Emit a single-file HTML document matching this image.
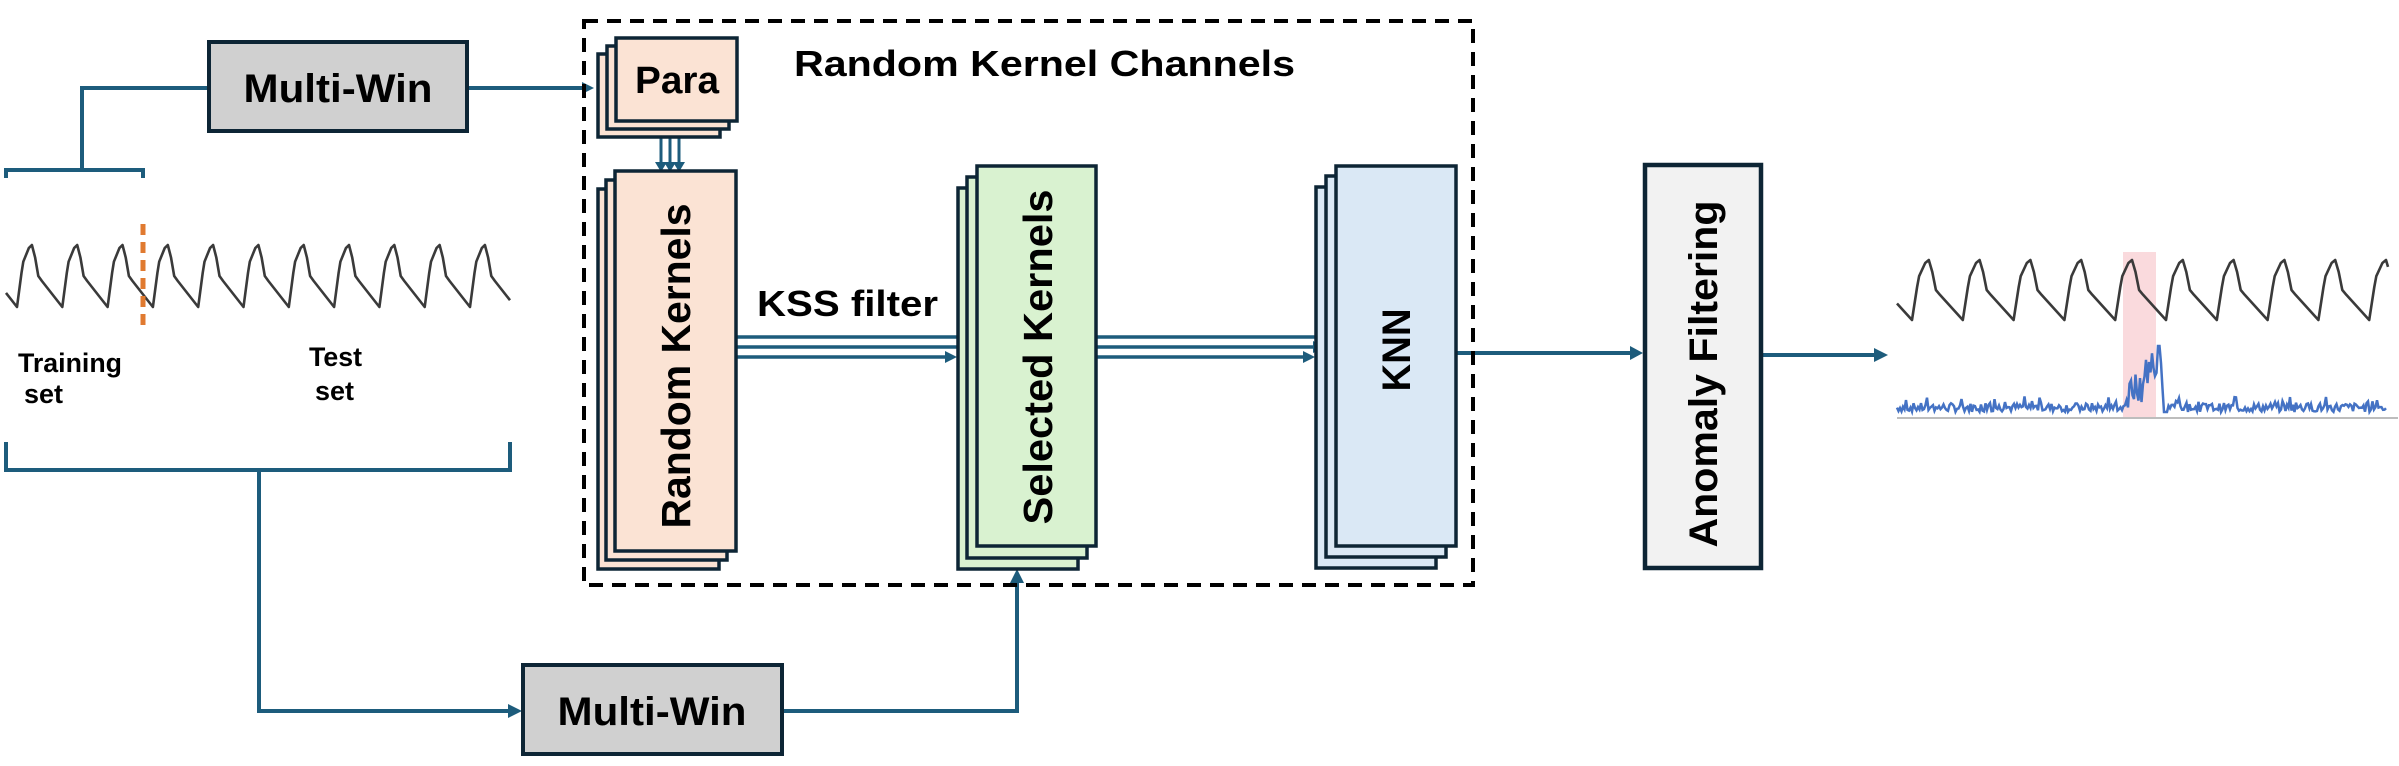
<!DOCTYPE html>
<html><head><meta charset="utf-8"><style>
html,body{margin:0;padding:0;background:#fff;}
svg{display:block;}
text{font-family:"Liberation Sans",sans-serif;font-weight:bold;fill:#000;}
</style></head><body>
<svg id="s" width="2399" height="766" viewBox="0 0 2399 766" xmlns="http://www.w3.org/2000/svg">
<g id="waves"></g>
<line x1="143" y1="224" x2="143" y2="330" stroke="#e07a30" stroke-width="5" stroke-dasharray="11,7"/>
<text x="18" y="372" font-size="27" textLength="104" lengthAdjust="spacingAndGlyphs">Training</text>
<text x="24" y="403" font-size="27">set</text>
<text x="309" y="366" font-size="27" textLength="53" lengthAdjust="spacingAndGlyphs">Test</text>
<text x="315" y="400" font-size="27">set</text>

<g fill="none" stroke="#1d5c7c" stroke-width="4">
<path d="M6 178 V170 H143 V178"/>
<path d="M82 170 V88 H207"/>
<line x1="468" y1="88" x2="584" y2="88"/>
<path d="M6 442 V470 H510 V442"/>
<path d="M259 470 V711 H510"/>
<path d="M783 711 H1017 V582"/>
<line x1="661" y1="137" x2="661" y2="166" stroke-width="3"/>
<line x1="670" y1="128" x2="670" y2="166" stroke-width="3"/>
<line x1="679" y1="120" x2="679" y2="166" stroke-width="3"/>
<line x1="735" y1="337" x2="970" y2="337" stroke-width="3.5"/>
<line x1="735" y1="347" x2="962" y2="347" stroke-width="3.5"/>
<line x1="735" y1="357" x2="950" y2="357" stroke-width="3.5"/>
<line x1="1096" y1="337" x2="1328" y2="337" stroke-width="3.5"/>
<line x1="1096" y1="347" x2="1318" y2="347" stroke-width="3.5"/>
<line x1="1096" y1="357" x2="1308" y2="357" stroke-width="3.5"/>
<line x1="1456" y1="353" x2="1632" y2="353"/>
<line x1="1762" y1="355" x2="1876" y2="355"/>
</g>
<g fill="#1d5c7c">
<polygon points="594,88 582,82 582,94"/>
<polygon points="522,711 508,704 508,718"/>
<polygon points="1017,569 1010,583 1024,583"/>
<polygon points="661,172 655,162 667,162"/>
<polygon points="670,172 664,162 676,162"/>
<polygon points="679,172 673,162 685,162"/>
<polygon points="978,337 966,331 966,343"/>
<polygon points="969,347 957,341 957,353"/>
<polygon points="957,357 945,351 945,363"/>
<polygon points="1336,337 1324,331 1324,343"/>
<polygon points="1325,347 1313,341 1313,353"/>
<polygon points="1315,357 1303,351 1303,363"/>
<polygon points="1643,353 1630,346 1630,360"/>
<polygon points="1888,355 1874,348 1874,362"/>
</g>

<rect x="584" y="21" width="889" height="564" fill="none" stroke="#000" stroke-width="4" stroke-dasharray="14,9"/>
<text x="794" y="76" font-size="36" textLength="501" lengthAdjust="spacingAndGlyphs">Random Kernel Channels</text>

<g stroke="#0d2535" stroke-width="4">
<rect x="209" y="42" width="258" height="89" fill="#d0d0d0"/>
<rect x="523" y="665" width="259" height="89" fill="#d0d0d0"/>
<rect x="598" y="54" width="122" height="83" fill="#fbe3d4" stroke-width="3.5"/>
<rect x="607" y="46" width="122" height="83" fill="#fbe3d4" stroke-width="3.5"/>
<rect x="616" y="38" width="121" height="83" fill="#fbe3d4" stroke-width="3.5"/>
<rect x="598" y="189" width="121" height="380" fill="#fbe3d4" stroke-width="3.5"/>
<rect x="606" y="180" width="121" height="380" fill="#fbe3d4" stroke-width="3.5"/>
<rect x="615" y="171" width="121" height="380" fill="#fbe3d4" stroke-width="3.5"/>
<rect x="958" y="188" width="120" height="381" fill="#d9f2d0" stroke-width="3.5"/>
<rect x="967" y="177" width="120" height="381" fill="#d9f2d0" stroke-width="3.5"/>
<rect x="977" y="166" width="119" height="380" fill="#d9f2d0" stroke-width="3.5"/>
<rect x="1316" y="187" width="120" height="381" fill="#dae8f5" stroke-width="3.5"/>
<rect x="1326" y="176" width="120" height="381" fill="#dae8f5" stroke-width="3.5"/>
<rect x="1336" y="166" width="120" height="380" fill="#dae8f5" stroke-width="3.5"/>
<rect x="1645" y="165" width="116" height="403" fill="#f2f2f2" stroke-width="4.5"/>
</g>
<text x="338" y="102" font-size="40" text-anchor="middle" textLength="189" lengthAdjust="spacingAndGlyphs">Multi-Win</text>
<text x="652" y="725" font-size="40" text-anchor="middle" textLength="189" lengthAdjust="spacingAndGlyphs">Multi-Win</text>
<text x="677" y="93" font-size="38" text-anchor="middle" textLength="84" lengthAdjust="spacingAndGlyphs">Para</text>
<text transform="translate(690,366) rotate(-90)" font-size="41" text-anchor="middle" textLength="325" lengthAdjust="spacingAndGlyphs">Random Kernels</text>
<text x="757" y="316" font-size="36" textLength="181" lengthAdjust="spacingAndGlyphs">KSS filter</text>
<text transform="translate(1052,357) rotate(-90)" font-size="41" text-anchor="middle" textLength="335" lengthAdjust="spacingAndGlyphs">Selected Kernels</text>
<text transform="translate(1410,350) rotate(-90)" font-size="40" text-anchor="middle" textLength="83" lengthAdjust="spacingAndGlyphs">KNN</text>
<text transform="translate(1717,374) rotate(-90)" font-size="40" text-anchor="middle" textLength="347" lengthAdjust="spacingAndGlyphs">Anomaly Filtering</text>
</svg>
<script>
(function(){
var g=document.getElementById('waves'),NS='http://www.w3.org/2000/svg';
function add(tag,attrs){var e=document.createElementNS(NS,tag);for(var k in attrs)e.setAttribute(k,attrs[k]);g.appendChild(e);return e;}
add('rect',{x:2123,y:252,width:33,height:165,fill:'#fadadd'});
function wave(x0,x1,period,firstTrough,top,bot,sw){
  var h=bot-top,pts=[];var t=firstTrough-period;
  while(t<x1+period){
    var seg=[[0,bot],[0.1,top+0.45*h],[0.14,top+0.27*h],[0.26,top+0.05*h],[0.33,top],[0.4,top+0.2*h],[0.47,top+0.5*h],[0.55,top+0.58*h],[1,bot]];
    for(var i=0;i<seg.length;i++){pts.push([t+seg[i][0]*period,seg[i][1]]);}
    t+=period;
  }
  var out=[];
  for(var i=0;i<pts.length;i++){
    var p=pts[i];
    if(p[0]<x0){ if(i+1<pts.length&&pts[i+1][0]>=x0){var q=pts[i+1];var f=(x0-p[0])/(q[0]-p[0]);out.push([x0,p[1]+f*(q[1]-p[1])]);} continue;}
    if(p[0]>x1){ var pr=pts[i-1];var f=(x1-pr[0])/(p[0]-pr[0]);out.push([x1,pr[1]+f*(p[1]-pr[1])]);break;}
    out.push(p);
  }
  add('polyline',{points:out.map(function(p){return p[0].toFixed(1)+','+p[1].toFixed(1)}).join(' '),fill:'none',stroke:'#3a3a3a','stroke-width':sw,'stroke-linejoin':'round'});
}
wave(6,510,45.3,17,245,307,2.6);
wave(1897,2388,50.8,1912,260,320,2.6);
add('line',{x1:1897,y1:418,x2:2398,y2:418,stroke:'#bdbdbd','stroke-width':2});
var s=7,pts=[];function r(){s=(s*9301+49297)%233280;return s/233280;}
for(var x=1897;x<=2386;x+=1.5){
  var y=412-r()*9-(r()<0.12?r()*12:0);
  if(x>2128&&x<2157){var k=(x-2128)/29;y=410-k*45-r()*25+(r()<0.3?15:0);}
  if(x>=2157&&x<2160)y=346;
  if(x>=2160&&x<2164)y=346+(x-2160)*17;
  if(x>=2164&&x<2168)y=412;
  pts.push(x.toFixed(1)+','+Math.min(y,414).toFixed(1));
}
add('polyline',{points:pts.join(' '),fill:'none',stroke:'#4472c4','stroke-width':2.5});
})();
</script>
</body></html>
